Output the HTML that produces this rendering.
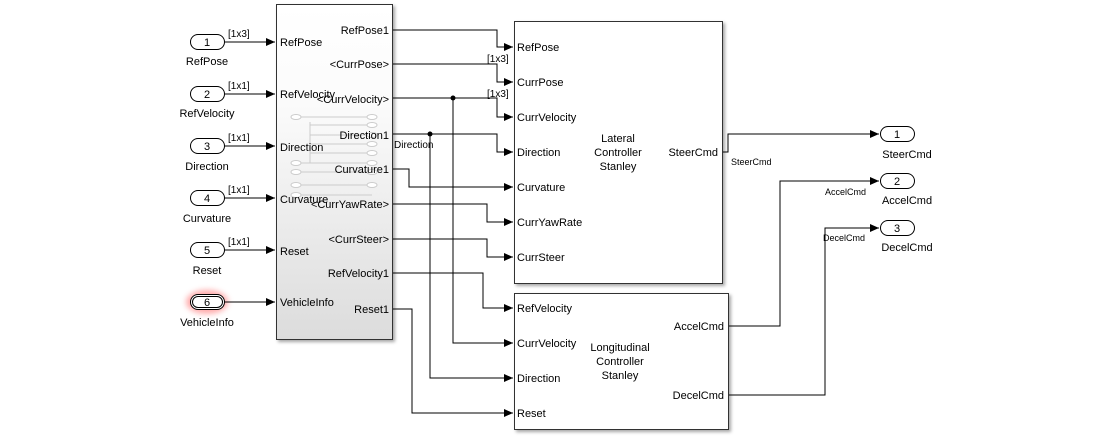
<!DOCTYPE html>
<html><head><meta charset="utf-8"><style>
body{margin:0;background:#fff;}
svg{display:block;font-family:"Liberation Sans",Arial,sans-serif;}
</style></head><body>
<svg width="1093" height="444" viewBox="0 0 1093 444" xmlns="http://www.w3.org/2000/svg">
<defs>
<linearGradient id="g" x1="0" y1="0" x2="0" y2="1">
<stop offset="0" stop-color="#fff"/><stop offset="0.3" stop-color="#fbfbfb"/><stop offset="1" stop-color="#dcdcdc"/>
</linearGradient>
<marker id="a" markerWidth="10" markerHeight="10" refX="9" refY="5" orient="auto" markerUnits="userSpaceOnUse">
<path d="M0,1 L9,5 L0,9 z" fill="#000"/></marker>
<filter id="sh" x="-5%" y="-5%" width="115%" height="115%"><feDropShadow dx="2" dy="2" stdDeviation="1.5" flood-color="#000" flood-opacity="0.35"/></filter>
<filter id="glow" x="-50%" y="-80%" width="200%" height="260%"><feGaussianBlur stdDeviation="3"/></filter>
</defs>

<rect x="276.5" y="4.5" width="116" height="335" fill="url(#g)" stroke="#333" filter="url(#sh)"/>
<g stroke="#ccc" fill="#fff" stroke-width="1">
<line x1="296" y1="117" x2="372" y2="117"/><line x1="310" y1="122" x2="310" y2="163"/>
<line x1="310" y1="125" x2="372" y2="125"/><line x1="310" y1="135" x2="372" y2="135"/><line x1="310" y1="144" x2="372" y2="144"/><line x1="310" y1="153" x2="372" y2="153"/>
<line x1="296" y1="163" x2="372" y2="163"/><line x1="296" y1="172" x2="372" y2="172"/><line x1="296" y1="185" x2="372" y2="185"/><line x1="296" y1="195" x2="372" y2="195"/>
<ellipse cx="296" cy="117" rx="5" ry="2.5"/><ellipse cx="372" cy="117" rx="5" ry="2.5"/>
<ellipse cx="372" cy="125" rx="5" ry="2.5"/><ellipse cx="372" cy="135" rx="5" ry="2.5"/><ellipse cx="372" cy="144" rx="5" ry="2.5"/><ellipse cx="372" cy="153" rx="5" ry="2.5"/>
<ellipse cx="296" cy="163" rx="5" ry="2.5"/><ellipse cx="372" cy="163" rx="5" ry="2.5"/><ellipse cx="296" cy="172" rx="5" ry="2.5"/><ellipse cx="372" cy="172" rx="5" ry="2.5"/>
<ellipse cx="296" cy="185" rx="5" ry="2.5"/><ellipse cx="372" cy="185" rx="5" ry="2.5"/><ellipse cx="296" cy="195" rx="5" ry="2.5"/>
</g>
<rect x="514.5" y="21.5" width="208" height="262" fill="#fff" stroke="#333" filter="url(#sh)"/>
<rect x="514.5" y="293.5" width="214" height="136" fill="#fff" stroke="#333" filter="url(#sh)"/>

<ellipse cx="207" cy="302" rx="21" ry="12" fill="#f66" opacity="0.55" filter="url(#glow)"/>
<g fill="#fff" stroke="#000">
<rect x="190.5" y="34.5" width="34" height="15" rx="7.5"/>
<rect x="190.5" y="86.5" width="34" height="15" rx="7.5"/>
<rect x="190.5" y="138.5" width="34" height="15" rx="7.5"/>
<rect x="190.5" y="190.5" width="34" height="15" rx="7.5"/>
<rect x="190.5" y="242.5" width="34" height="15" rx="7.5"/>
<rect x="190.5" y="294.5" width="34" height="15" rx="7.5"/>
<rect x="192.5" y="296.5" width="30" height="11" rx="5.5"/>
<rect x="880.5" y="126.5" width="34" height="15" rx="7.5"/>
<rect x="880.5" y="173.5" width="34" height="15" rx="7.5"/>
<rect x="880.5" y="220.5" width="34" height="15" rx="7.5"/>
</g>
<g font-size="11" text-anchor="middle" fill="#000">
<text x="207" y="46">1</text><text x="207" y="98">2</text><text x="207" y="150">3</text><text x="207" y="202">4</text><text x="207" y="254">5</text><text x="207" y="306">6</text>
<text x="897" y="138">1</text><text x="897" y="185">2</text><text x="897" y="232">3</text>
<text x="207" y="65">RefPose</text><text x="207" y="117">RefVelocity</text><text x="207" y="170">Direction</text><text x="207" y="222">Curvature</text><text x="207" y="274">Reset</text><text x="207" y="326">VehicleInfo</text>
<text x="907" y="158">SteerCmd</text><text x="907" y="204">AccelCmd</text><text x="907" y="251">DecelCmd</text>
</g>

<g stroke="#000" fill="none" stroke-width="1">
<path d="M225,42H275" marker-end="url(#a)"/>
<path d="M225,94H275" marker-end="url(#a)"/>
<path d="M225,146H275" marker-end="url(#a)"/>
<path d="M225,198H275" marker-end="url(#a)"/>
<path d="M225,250H275" marker-end="url(#a)"/>
<path d="M225,302H275" marker-end="url(#a)"/>
<path d="M393,30H497V47H513" marker-end="url(#a)"/>
<path d="M393,64H497V82H513" marker-end="url(#a)"/>
<path d="M393,98H497V117H513" marker-end="url(#a)"/>
<path d="M393,134H497V152H513" marker-end="url(#a)"/>
<path d="M393,169H409V187H513" marker-end="url(#a)"/>
<path d="M393,204H487V222H513" marker-end="url(#a)"/>
<path d="M393,239H487V257H513" marker-end="url(#a)"/>
<path d="M393,273H483V308H513" marker-end="url(#a)"/>
<path d="M453,98V343H513" marker-end="url(#a)"/>
<path d="M430,134V378H513" marker-end="url(#a)"/>
<path d="M393,309H412V413H513" marker-end="url(#a)"/>
<path d="M723,152H728V134H879" marker-end="url(#a)"/>
<path d="M729,326H780V181H879" marker-end="url(#a)"/>
<path d="M729,395H825V228H879" marker-end="url(#a)"/>
</g>
<circle cx="453" cy="98" r="2.5"/><circle cx="430" cy="134" r="2.5"/>

<g font-size="10" fill="#000">
<text x="228" y="37">[1x3]</text><text x="228" y="89">[1x1]</text><text x="228" y="141">[1x1]</text><text x="228" y="193">[1x1]</text><text x="228" y="245">[1x1]</text>
<text x="487" y="62">[1x3]</text><text x="487" y="97">[1x3]</text>
<text x="394" y="148">Direction</text>
<text x="731" y="165" font-size="9">SteerCmd</text>
<text x="825" y="195" font-size="9">AccelCmd</text>
<text x="823" y="241" font-size="9">DecelCmd</text>
</g>
<g font-size="11" fill="#000">
<text x="280" y="46">RefPose</text><text x="280" y="98">RefVelocity</text><text x="280" y="151">Direction</text><text x="280" y="203">Curvature</text><text x="280" y="255">Reset</text><text x="280" y="306">VehicleInfo</text>
<g text-anchor="end">
<text x="389" y="34">RefPose1</text><text x="389" y="68">&lt;CurrPose&gt;</text><text x="389" y="103">&lt;CurrVelocity&gt;</text><text x="389" y="139">Direction1</text><text x="389" y="173">Curvature1</text><text x="389" y="208">&lt;CurrYawRate&gt;</text><text x="389" y="243">&lt;CurrSteer&gt;</text><text x="389" y="277">RefVelocity1</text><text x="389" y="313">Reset1</text>
<text x="718" y="156">SteerCmd</text><text x="724" y="330">AccelCmd</text><text x="724" y="399">DecelCmd</text>
</g>
<text x="517" y="51">RefPose</text><text x="517" y="86">CurrPose</text><text x="517" y="121">CurrVelocity</text><text x="517" y="156">Direction</text><text x="517" y="191">Curvature</text><text x="517" y="226">CurrYawRate</text><text x="517" y="261">CurrSteer</text>
<text x="517" y="312">RefVelocity</text><text x="517" y="347">CurrVelocity</text><text x="517" y="382">Direction</text><text x="517" y="417">Reset</text>
<g text-anchor="middle">
<text x="618" y="142">Lateral</text><text x="618" y="156">Controller</text><text x="618" y="170">Stanley</text>
<text x="620" y="351">Longitudinal</text><text x="620" y="365">Controller</text><text x="620" y="379">Stanley</text>
</g>
</g>
</svg>
</body></html>
